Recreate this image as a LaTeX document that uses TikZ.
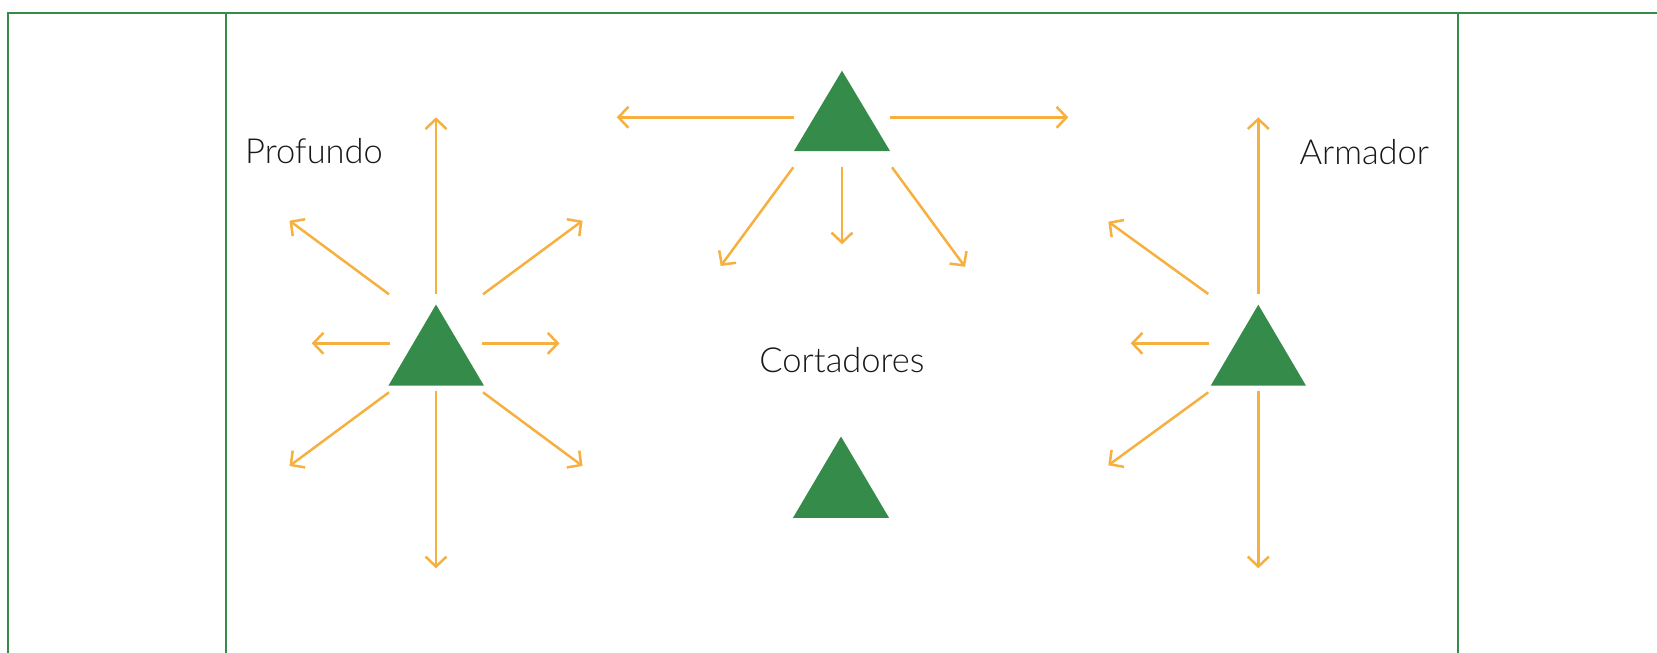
\documentclass[tikz,border=0pt]{standalone}
\usepackage{fontspec}
\setmainfont{Lato}[UprightFont=* Light]
\usepackage{xcolor}
\usetikzlibrary{arrows.meta}
\definecolor{fieldgreen}{HTML}{358B4A}
\definecolor{runorange}{HTML}{F6B03F}

\begin{document}
\begin{tikzpicture}[x=1pt, y=-1pt,
  fieldline/.style={draw=fieldgreen, line width=2},
  player/.style={fill=fieldgreen},
  run/.style={draw=runorange, line width=2.5, -{Straight Barb[length=10pt, width=21pt]}},
  tag/.style={inner sep=0, text=black!90, font=\fontsize{34.5}{41}\selectfont}]

\useasboundingbox (0,0) rectangle (1657,653);

\draw[fieldline] (8.3,653)--(8.3,13.3)--(1657,13.3);

\draw[fieldline] (226,13.3)--(226,653);

\draw[fieldline] (1458.3,13.3)--(1458.3,653);

\coordinate (profundo) at (436,343.3);
\coordinate (armador) at (1258.3,343.3);
\coordinate (cortadorA) at (842,117.3);
\coordinate (cortadorB) at (841,477);

\node[tag, anchor=base west] (profundoTag) at (245,163.3) {Profundo};

\node[tag, anchor=base west] (armadorTag) at (1299.3,164) {Armador};

\node[tag, anchor=base] (cortadoresTag) at (842,372.7) {Cortadores};

\begin{scope}[shift={(profundo)}]
\fill[player] (0,-38.8)--(48,42.4)--(-47.6,42.4)--cycle;
\draw[run] (0,-49)--(0,-226);
\draw[run] (-47,-49)--(-146.5,-122.6);
\draw[run] (47,-49)--(146.5,-122.6);
\draw[run] (-46.5,0)--(-124.3,0);
\draw[run] (45.5,0)--(123.5,0);
\draw[run] (-47,49)--(-146.5,122.7);
\draw[run] (0,48)--(0,225);
\draw[run] (47,49)--(146.5,122.7);
\end{scope}

\begin{scope}[shift={(armador)}]
\fill[player] (0,-38.6)--(47.7,42.4)--(-47.6,42.4)--cycle;
\draw[run] (0,-49)--(0,-226);
\draw[run] (-50,-49.3)--(-150,-121.6);
\draw[run] (-49.3,0)--(-127.6,0);
\draw[run] (-50,49)--(-150,122);
\draw[run] (0,48)--(0,225);
\end{scope}

\begin{scope}[shift={(cortadorA)}]
\fill[player] (0,-46.6)--(48,33.7)--(-48,33.7)--cycle;
\draw[run] (-48,0)--(-225.3,0);
\draw[run] (48,0)--(226.3,0);
\draw[run] (-48.7,50)--(-121.3,148.7);
\draw[run] (0,49.4)--(0,127);
\draw[run] (50,50)--(123,149.5);
\end{scope}

\begin{scope}[shift={(cortadorB)}]
\fill[player] (0,-40.5)--(48,40.8)--(-48,40.8)--cycle;
\end{scope}

\end{tikzpicture}
\end{document}
